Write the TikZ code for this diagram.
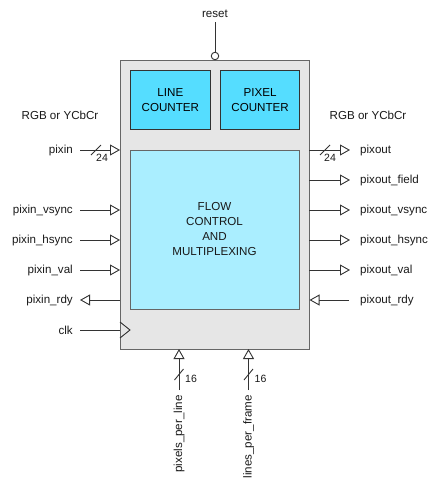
\documentclass[tikz,border=0pt]{standalone}
\usepackage{fontspec}
\setmainfont{Liberation Sans}
\usetikzlibrary{arrows.meta}
\definecolor{boxgray}{HTML}{E6E6E6}
\definecolor{boxedge}{HTML}{666666}
\definecolor{cnt}{HTML}{55DDFF}
\definecolor{flow}{HTML}{AAEEFF}
\definecolor{wire}{HTML}{333333}
\tikzset{
  lbl/.style={font=\fontsize{11.6}{14}\selectfont, inner sep=0pt, text=black!90},
  small/.style={font=\fontsize{10.5}{12}\selectfont, inner sep=0pt, text=black!90},
  wireline/.style={draw=wire, line width=0.9pt},
  inarr/.style={wireline, -{Triangle[open, length=10pt, width=11pt, line width=0.9pt]}},
  outerbox/.style={draw=boxedge, fill=boxgray, line width=1.4pt, inner sep=0pt, anchor=north west},
  cntbox/.style={draw=black!80, fill=cnt, line width=1.2pt, inner sep=0pt, anchor=north west, align=center, font=\fontsize{11.6}{15}\selectfont},
  flowbox/.style={draw=boxedge, fill=flow, line width=1.2pt, inner sep=0pt, anchor=north west, align=center, font=\fontsize{11.6}{15.3}\selectfont},
}
\begin{document}
\begin{tikzpicture}[x=1pt,y=-1pt]
\useasboundingbox (0,0) rectangle (440,490);
% blocks
\node[outerbox, minimum width=189pt, minimum height=289pt] (blk) at (120,60) {};
\node[cntbox, minimum width=79.5pt, minimum height=59pt] (lc) at (130,70) {LINE\\COUNTER};
\node[cntbox, minimum width=79pt, minimum height=59pt] (pc) at (220,70) {PIXEL\\COUNTER};
\node[flowbox, minimum width=169pt, minimum height=159pt] (fc) at (130,150) {};
\node[lbl, align=center, font=\fontsize{11.6}{15.3}\selectfont] (fct) at (214.5,229) {FLOW\\CONTROL\\AND\\MULTIPLEXING};
% reset
\node[lbl] (rst) at (215,14) {reset};
\node[draw=wire, fill=white, circle, line width=0.9pt, minimum size=7.5pt, inner sep=0pt] (rc) at (215,56) {};
\draw[wireline] (215,22) -- (rc.north);
% left labels
\node[lbl] (rgbl) at (60,115) {RGB or YCbCr};
\node[lbl, anchor=east] (pin) at (73,150) {pixin};
\node[lbl, anchor=east] (pvs) at (73,210) {pixin\_vsync};
\node[lbl, anchor=east] (phs) at (73,240) {pixin\_hsync};
\node[lbl, anchor=east] (pva) at (73,270) {pixin\_val};
\node[lbl, anchor=east] (prd) at (73,300) {pixin\_rdy};
\node[lbl, anchor=east] (clk) at (73,330) {clk};
\foreach \n/\y in {pin/150,pvs/210,phs/240,pva/270}{
  \coordinate (\n s) at (80,\y);
  \coordinate (\n e) at (120,\y);
  \draw[inarr] (\n s) -- (\n e);
}
\coordinate (prds) at (120,300);
\coordinate (prde) at (80,300);
\draw[inarr] (prds) -- (prde);
\coordinate (clks) at (80,330);
\coordinate (clke) at (120,330);
\draw[wireline] (clks) -- (clke);
\draw[draw=wire, line width=0.9pt] (120,322) -- (130,330) -- (120,338);
% bus slash pixin
\draw[wireline] (91,155) -- (101,145);
\node[small, anchor=west] (b24l) at (96,158) {24};
% right labels
\node[lbl] (rgbr) at (368,115) {RGB or YCbCr};
\node[lbl, anchor=west] (pout) at (360,150) {pixout};
\node[lbl, anchor=west] (pfd) at (360,180) {pixout\_field};
\node[lbl, anchor=west] (povs) at (360,210) {pixout\_vsync};
\node[lbl, anchor=west] (pohs) at (360,240) {pixout\_hsync};
\node[lbl, anchor=west] (pova) at (360,270) {pixout\_val};
\node[lbl, anchor=west] (pord) at (360,300) {pixout\_rdy};
\foreach \n/\y in {pout/150,pfd/180,povs/210,pohs/240,pova/270}{
  \coordinate (\n s) at (309,\y);
  \coordinate (\n e) at (350,\y);
  \draw[inarr] (\n s) -- (\n e);
}
\coordinate (pords) at (349,300);
\coordinate (porde) at (309.5,300);
\draw[inarr] (pords) -- (porde);
\draw[wireline] (320,155) -- (330,145);
\node[small, anchor=west] (b24r) at (324,158) {24};
% bottom inputs
\coordinate (pplS) at (179,390);
\coordinate (pplE) at (179,349);
\draw[inarr] (pplS) -- (pplE);
\coordinate (lpfS) at (248.5,390);
\coordinate (lpfE) at (248.5,349);
\draw[inarr] (lpfS) -- (lpfE);
\draw[wireline] (174.5,380) -- (183.5,369);
\draw[wireline] (244,380) -- (253,369);
\node[small, anchor=west] (b16a) at (185,379) {16};
\node[small, anchor=west] (b16b) at (254.5,379) {16};
\node[lbl, rotate=90, anchor=east] (ppl) at (179,395) {pixels\_per\_line};
\node[lbl, rotate=90, anchor=east] (lpf) at (248.5,395) {lines\_per\_frame};
\end{tikzpicture}
\end{document}
